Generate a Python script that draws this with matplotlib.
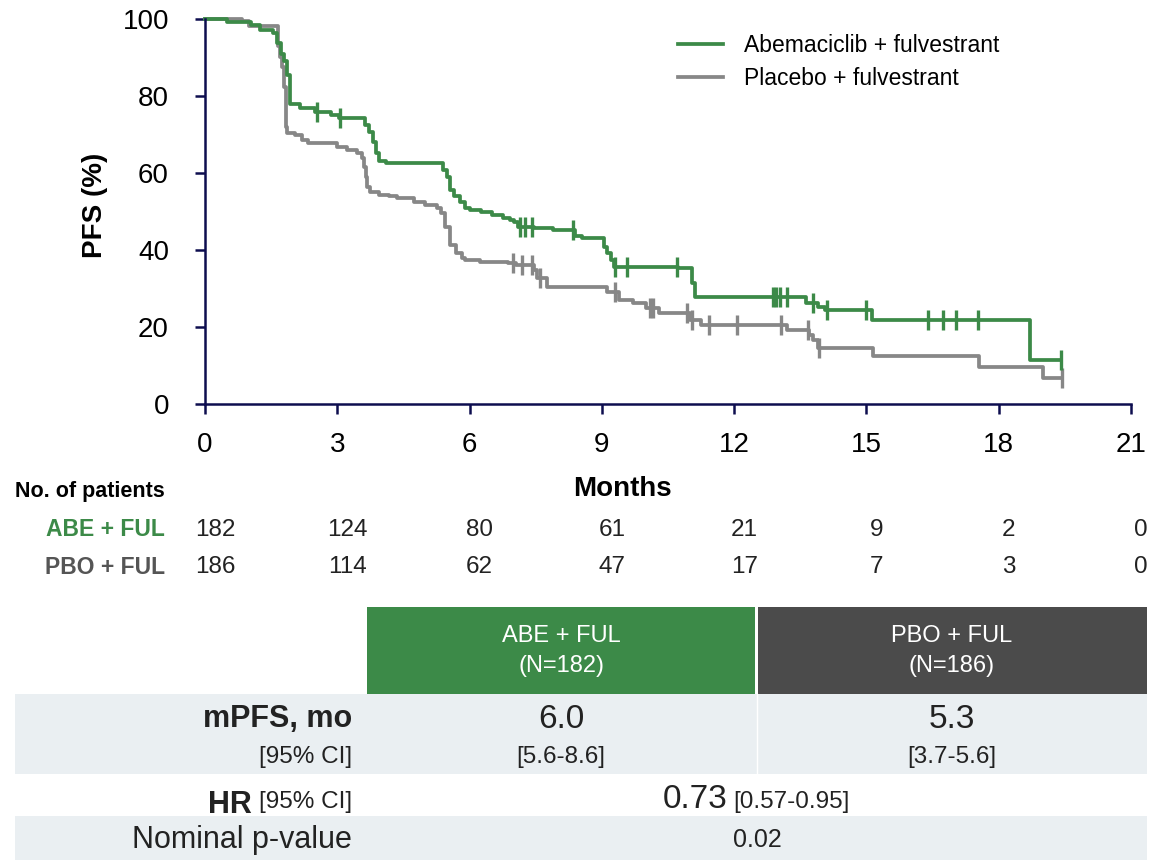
import numpy as np
import matplotlib
matplotlib.use("Agg")
import matplotlib.pyplot as plt
from matplotlib.patches import Rectangle
from matplotlib.transforms import blended_transform_factory

plt.rcParams['font.family'] = ['Liberation Sans Narrow', 'Liberation Sans', 'DejaVu Sans']

GREEN = '#3c8a48'
GRAY = '#878787'
DARK = '#4b4b4b'
ROWBG = '#eaeff2'
NAVY = '#0d0d4f'

# Kaplan-Meier steps: event time (months) and PFS (%) after the event
abe_time = [0, 0.5, 1.05, 1.25, 1.55, 1.64, 1.72, 1.80, 1.87, 1.93, 2.15, 2.5, 2.85,
            3.05, 3.62, 3.72, 3.80, 3.88, 3.95, 4.10, 5.40, 5.48, 5.55, 5.65, 5.78,
            5.90, 6.0, 6.25, 6.5, 6.75, 6.92, 7.0, 7.1, 7.45, 7.9, 8.4, 8.55, 9.05,
            9.12, 9.2, 9.27, 10.72, 11.05, 11.12, 13.64, 13.9, 14.05, 15.12, 18.72]
abe_pfs = [100, 99.3, 98.5, 97.2, 96.4, 93.7, 91.0, 89.0, 85.5, 78.0, 76.8, 75.9, 75.1,
           74.2, 72.5, 70.7, 68.1, 65.1, 63.0, 62.5, 60.8, 59.0, 55.6, 53.9, 52.5,
           50.8, 50.4, 49.9, 49.1, 48.2, 47.8, 47.3, 46.0, 45.6, 45.2, 43.6, 43.0, 40.9,
           39.1, 37.4, 35.7, 35.3, 31.5, 27.9, 26.2, 25.3, 24.4, 21.8, 11.4]
abe_end = 19.42
abe_censor = [2.53, 3.06, 7.14, 7.26, 7.41, 8.35, 9.3, 9.56, 10.7, 12.89, 12.96, 13.04,
              13.19, 13.79, 14.1, 15.0, 16.4, 16.74, 17.03, 17.54, 19.42]

pbo_time = [0, 0.83, 1.0, 1.66, 1.70, 1.75, 1.80, 1.83, 1.87, 2.05, 2.2, 2.34, 3.0,
            3.22, 3.45, 3.57, 3.60, 3.64, 3.68, 3.75, 3.94, 4.17, 4.36, 4.74, 5.0,
            5.27, 5.36, 5.44, 5.55, 5.7, 5.82, 5.9, 6.23, 6.87, 7.05, 7.45, 7.52,
            7.75, 9.11, 9.4, 9.7, 10.0, 10.3, 11.0, 11.25, 13.2, 13.7, 13.78, 13.9,
            15.16, 17.56, 19.0]
pbo_pfs = [100, 99.5, 98.2, 93.0, 90.2, 87.6, 82.4, 72.0, 70.3, 69.9, 68.6, 67.7, 66.8,
           65.9, 65.1, 63.8, 61.6, 59.0, 56.4, 55.1, 54.3, 53.9, 53.4, 52.5, 51.7,
           50.8, 49.5, 46.0, 41.3, 39.1, 37.8, 37.4, 37.0, 36.5, 36.1, 34.8, 32.6,
           30.5, 29.2, 27.0, 26.2, 24.9, 23.6, 21.8, 20.5, 19.2, 17.9, 16.6, 14.5,
           12.5, 9.5, 6.7]
pbo_end = 19.43
pbo_censor = [6.99, 7.18, 7.41, 7.6, 9.3, 10.09, 10.17, 10.92, 11.04, 11.44, 12.07,
              13.06, 13.68, 13.93, 19.43]

risk_months = [0, 3, 6, 9, 12, 15, 18, 21]
abe_risk = [182, 124, 80, 61, 21, 9, 2, 0]
pbo_risk = [186, 114, 62, 47, 17, 7, 3, 0]

arm_names = ['ABE + FUL', 'PBO + FUL']
arm_n = [182, 186]
mpfs = ['6.0', '5.3']
mpfs_ci = ['[5.6-8.6]', '[3.7-5.6]']
hr = '0.73'
hr_ci = '[0.57-0.95]'
p_value = '0.02'


def km_value(times, pfs, t):
    i = np.searchsorted(times, t, side='right') - 1
    return pfs[i]


fig = plt.figure(figsize=(11.5, 8.6), dpi=100)
W, H = 1150, 860

ax = fig.add_axes([205 / W, 1 - 404 / H, (1131 - 205) / W, (404 - 19) / H])
for times, pfs, end, cens, col, lab in [
        (pbo_time, pbo_pfs, pbo_end, pbo_censor, GRAY, 'Placebo + fulvestrant'),
        (abe_time, abe_pfs, abe_end, abe_censor, GREEN, 'Abemaciclib + fulvestrant')]:
    t = np.array(times + [end])
    s = np.array(pfs + [pfs[-1]])
    ax.step(t, s, where='post', color=col, lw=2.7, clip_on=False, label=lab)
    cy = [km_value(times, pfs, c) for c in cens]
    ax.plot(cens, cy, ls='none', marker='|', ms=14, mew=2.4, color=col, clip_on=False)

ax.set_xlim(0, 21)
ax.set_ylim(0, 100)
ax.set_xticks(risk_months)
ax.set_yticks([0, 20, 40, 60, 80, 100])
for side in ['top', 'right']:
    ax.spines[side].set_visible(False)
for side in ['left', 'bottom']:
    ax.spines[side].set_color(NAVY)
    ax.spines[side].set_linewidth(1.8)
ax.tick_params(axis='both', direction='out', length=7, width=1.8, color=NAVY,
               labelsize=20)
ax.tick_params(axis='y', pad=19)
ax.tick_params(axis='x', pad=13)

handles, labels = ax.get_legend_handles_labels()
ax.legend(handles[::-1], labels[::-1], loc='upper left',
          bbox_to_anchor=(678 / W, 1 - 34 / H), bbox_transform=fig.transFigure,
          frameon=False, fontsize=16.5, handlelength=1.95, handletextpad=0.95,
          labelspacing=0.45, borderpad=0, borderaxespad=0)

# overlay in pixel units for labels and the summary table
ov = fig.add_axes([0, 0, 1, 1], zorder=-1)
ov.set_xlim(0, W)
ov.set_ylim(H, 0)
ov.axis('off')

ov.text(95, 205, 'PFS (%)', rotation=90, ha='center', va='center',
        fontsize=20, fontweight='bold')
ov.text(622, 489, 'Months', ha='center', va='center', fontsize=20, fontweight='bold')

# number at risk
ov.text(15, 492, 'No. of patients', ha='left', va='center', fontsize=15.5,
        fontweight='bold')
ov.text(165, 530, arm_names[0], ha='right', va='center', fontsize=16.5,
        fontweight='bold', color=GREEN)
ov.text(165, 567, arm_names[1], ha='right', va='center', fontsize=16.5,
        fontweight='bold', color='#555555')
risk_tr = blended_transform_factory(ax.transData, ov.transData)
for m, a, p in zip(risk_months, abe_risk, pbo_risk):
    ov.text(m + 0.23, 530, str(a), transform=risk_tr, ha='center', va='center',
            fontsize=17.5, color='#222222')
    ov.text(m + 0.23, 567, str(p), transform=risk_tr, ha='center', va='center',
            fontsize=17.5, color='#222222')

# summary table
ov.add_patch(Rectangle((367, 607), 388, 87, color=GREEN, lw=0))
ov.add_patch(Rectangle((758, 607), 389, 87, color=DARK, lw=0))
ov.add_patch(Rectangle((15, 694), 1132, 80, color=ROWBG, lw=0))
ov.add_patch(Rectangle((15, 816), 1132, 44, color=ROWBG, lw=0))
ov.plot([757, 757], [694, 774], color='white', lw=1)

col_x = [561, 952]
for i in range(2):
    ov.text(col_x[i], 636, arm_names[i], ha='center', va='center', fontsize=17,
            color='white')
    ov.text(col_x[i], 666, f'(N={arm_n[i]})', ha='center', va='center', fontsize=17,
            color='white')
    ov.text(col_x[i], 719, mpfs[i], ha='center', va='center', fontsize=24,
            color='#222222')
    ov.text(col_x[i], 757, mpfs_ci[i], ha='center', va='center', fontsize=17.5,
            color='#222222')

ov.text(352, 719, 'mPFS, mo', ha='right', va='center', fontsize=22,
        fontweight='bold', color='#222222')
ov.text(352, 757, '[95% CI]', ha='right', va='center', fontsize=17.5, color='#222222')

t_ci = ov.text(352, 808, '[95% CI]', ha='right', va='baseline', fontsize=17.5,
               color='#222222')
ov.annotate('HR', xy=(0, 0), xycoords=t_ci, xytext=(-5, 0),
            textcoords='offset points', ha='right', va='baseline', fontsize=22,
            fontweight='bold', color='#222222')

ov.text(727, 808, hr, ha='right', va='baseline', fontsize=24, color='#222222')
ov.text(733, 808, hr_ci, ha='left', va='baseline', fontsize=17.5, color='#222222')

ov.text(352, 840, 'Nominal p-value', ha='right', va='center', fontsize=22,
        color='#222222')
ov.text(757, 840, p_value, ha='center', va='center', fontsize=18, color='#222222')

fig.savefig('out.png', dpi=100)
